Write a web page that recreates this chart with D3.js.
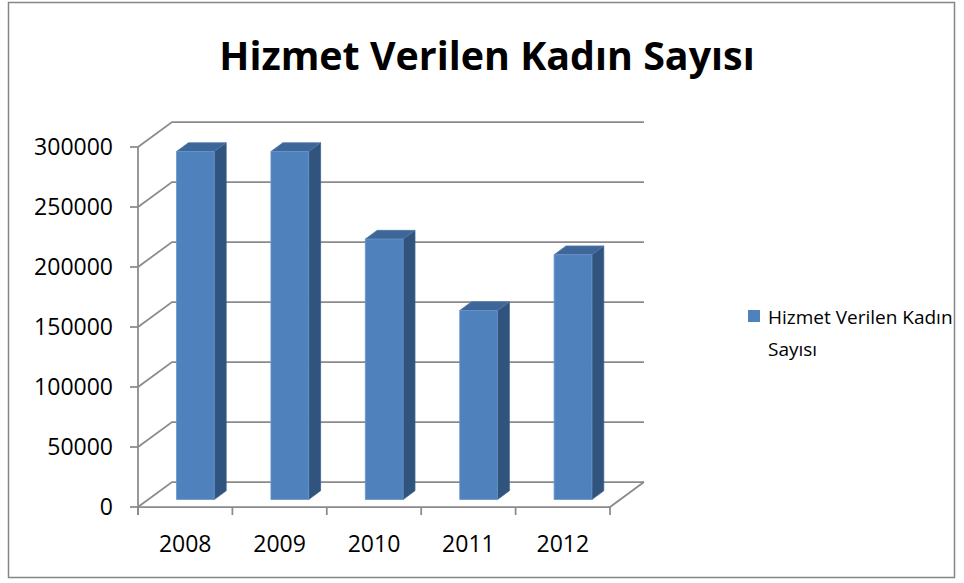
<!DOCTYPE html>
<html>
<head>
<meta charset="utf-8">
<script src="https://cdn.jsdelivr.net/npm/d3@7.9.0/dist/d3.min.js"></script>
<style>
  html, body { margin: 0; padding: 0; background: #fff; }
  svg { display: block; }
  text { font-family: "Open Sans", sans-serif; fill: #000; }
</style>
</head>
<body>
<svg id="chart" width="964" height="583"></svg>
<script>
const years = ["2008", "2009", "2010", "2011", "2012"];
const values = [290000, 290000, 217000, 157500, 204000];
const yTicks = [0, 50000, 100000, 150000, 200000, 250000, 300000];
const seriesName = "Hizmet Verilen Kadın Sayısı";
const chartTitle = "Hizmet Verilen Kadın Sayısı";

const svg = d3.select("#chart");

// frame
svg.append("rect")
  .attr("x", 8.5).attr("y", 2.5)
  .attr("width", 946).attr("height", 575)
  .attr("fill", "#fff")
  .attr("stroke", "#868686")
  .attr("stroke-width", 1.5);

// front plane of the plot, plus the depth offset of the 3d box
const left = 138, right = 610, floorY = 507;
const depthX = 34, depthY = 25;

const x = d3.scaleBand().domain(years).range([left, right]);
const y = d3.scaleLinear().domain([0, 300000]).range([floorY, floorY - 360]);

// project a point on the front plane back by t (0 = front, 1 = back wall)
const proj = (px, py, t) => [px + t * depthX, py - t * depthY];
const pts = arr => arr.map(p => p.join(",")).join(" ");

const grid = svg.append("g")
  .attr("fill", "none")
  .attr("stroke", "#8a8a8a")
  .attr("stroke-width", 1.75);

yTicks.forEach(v => {
  const [bx, by] = proj(left, y(v), 1);
  grid.append("polyline")
    .attr("points", pts([[left, y(v)], [bx, by], [right + depthX, by]]));
});

// floor front and right edges
grid.append("polyline")
  .attr("points", pts([[left, floorY], [right, floorY], proj(right, floorY, 1)]));

// value axis line + ticks
grid.append("line")
  .attr("x1", left).attr("x2", left)
  .attr("y1", y(300000)).attr("y2", floorY + 8);
yTicks.forEach(v => {
  grid.append("line")
    .attr("x1", left - 8).attr("x2", left)
    .attr("y1", y(v)).attr("y2", y(v));
});

// category ticks
years.concat([null]).forEach((d, i) => {
  const tx = left + i * x.step();
  grid.append("line")
    .attr("x1", tx).attr("x2", tx)
    .attr("y1", floorY).attr("y2", floorY + 8);
});

// bars
const t0 = 0.3, t1 = 0.65;
const barW = x.step() * 0.4;
const bars = svg.append("g");

years.forEach((yr, i) => {
  const x0 = x(yr) + x.step() * 0.3;
  const x1 = x0 + barW;
  const yb = y(0), yt = y(values[i]);

  const f = [proj(x0, yb, t0), proj(x1, yb, t0), proj(x1, yt, t0), proj(x0, yt, t0)];
  const side = [proj(x1, yb, t0), proj(x1, yb, t1), proj(x1, yt, t1), proj(x1, yt, t0)];
  const top = [proj(x0, yt, t0), proj(x1, yt, t0), proj(x1, yt, t1), proj(x0, yt, t1)];

  bars.append("polygon").attr("points", pts(side))
    .attr("fill", "#31547e").attr("stroke", "#3b6392").attr("stroke-width", 0.8);
  bars.append("polygon").attr("points", pts(top))
    .attr("fill", "#3d6699").attr("stroke", "#5479a8").attr("stroke-width", 0.8);
  bars.append("polygon").attr("points", pts(f))
    .attr("fill", "#4f81bd").attr("stroke", "#6a94c8").attr("stroke-width", 0.8);
});

// value labels
svg.append("g").selectAll("text")
  .data(yTicks)
  .join("text")
  .attr("x", 113)
  .attr("y", d => y(d))
  .attr("dy", "0.35em")
  .attr("text-anchor", "end")
  .style("font-size", "23px")
  .text(d => d);

// category labels
svg.append("g").selectAll("text")
  .data(years)
  .join("text")
  .attr("x", d => x(d) + x.bandwidth() / 2)
  .attr("y", 552)
  .attr("text-anchor", "middle")
  .style("font-size", "23px")
  .text(d => d);

// title, fitted to the width it has in the picture
const titleEl = svg.append("text")
  .attr("x", 487)
  .attr("y", 70)
  .attr("text-anchor", "middle")
  .style("font-weight", "bold")
  .style("font-size", "40px")
  .text(chartTitle);
const tw = titleEl.node().getComputedTextLength();
titleEl.style("font-size", (40 * 536 / tw).toFixed(1) + "px");

// legend
const legend = svg.append("g");
legend.append("rect")
  .attr("x", 748).attr("y", 310)
  .attr("width", 12).attr("height", 12)
  .attr("fill", "#4f81bd");
const words = seriesName.split(" ");
const legendText = legend.append("text")
  .attr("x", 768)
  .attr("y", 324)
  .style("font-size", "19px");
legendText.append("tspan").text(words.slice(0, 3).join(" "));
legendText.append("tspan")
  .attr("x", 768).attr("dy", 32)
  .text(words.slice(3).join(" "));
</script>
</body>
</html>
